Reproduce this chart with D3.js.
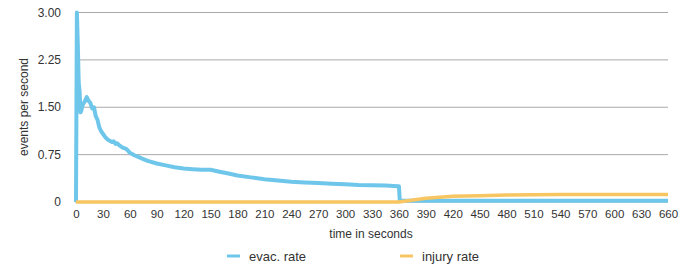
<!DOCTYPE html>
<html>
<head>
<meta charset="utf-8">
<script src="https://cdn.jsdelivr.net/npm/d3@7"></script>
<style>
  body { margin: 0; background: #fff; }
  text { font-family: "Liberation Sans", Arial, Helvetica, sans-serif; fill: #333; }
</style>
</head>
<body>
<div id="chart"></div>
<script>
// evac. rate series (time in s, events per second)
var evacTime = [0, 1, 2, 3, 4, 5, 6, 7, 8, 10, 12, 14, 16, 18, 20, 22, 24, 26, 28, 30,
  33, 36, 40, 42, 44, 46, 48, 52, 56, 60, 65, 70, 75, 80, 90, 100, 110, 120, 130, 140, 150,
  160, 170, 180, 195, 210, 225, 240, 255, 270, 285, 300, 315, 330, 345, 359, 360, 361,
  390, 420, 480, 540, 600, 660]
var evacRate = [0, 3.0, 2.5, 1.9, 1.75, 1.42, 1.45, 1.52, 1.55, 1.6, 1.66, 1.6, 1.57, 1.48, 1.5, 1.36, 1.3, 1.18, 1.12, 1.08,
  1.02, 0.98, 0.95, 0.96, 0.92, 0.93, 0.9, 0.86, 0.84, 0.78, 0.74, 0.71, 0.68, 0.65, 0.61, 0.58, 0.55, 0.53, 0.52, 0.51, 0.51,
  0.48, 0.45, 0.42, 0.39, 0.36, 0.34, 0.32, 0.31, 0.3, 0.29, 0.28, 0.27, 0.265, 0.26, 0.25, 0.25, 0.02,
  0.02, 0.02, 0.02, 0.02, 0.02, 0.02]

// injury rate series
var injuryTime = [0, 360, 390, 420, 450, 480, 510, 540, 600, 660]
var injuryRate = [0, 0, 0.06, 0.09, 0.1, 0.11, 0.115, 0.12, 0.12, 0.12]

var xTicks = d3.range(0, 661, 30)
var yTicks = [0, 0.75, 1.5, 2.25, 3]
var yTickLabels = ["0", "0.75", "1.50", "2.25", "3.00"]

var seriesNames = ["evac. rate", "injury rate"]
var colors = ["#6ec6ea", "#f7c662"]

const width = 700
const height = 269

const svg = d3.select("#chart").append("svg")
  .attr("width", width)
  .attr("height", height)

var x = d3.scaleLinear().domain([0, 660]).range([76, 668])
var y = d3.scaleLinear().domain([0, 3]).range([202, 12.5])

// grid lines
svg.append("g")
  .selectAll("line")
  .data(yTicks)
  .enter()
  .append("line")
  .attr("x1", 75)
  .attr("x2", 668)
  .attr("y1", function (d) { return y(d) })
  .attr("y2", function (d) { return y(d) })
  .attr("stroke", "#aaa")
  .attr("stroke-width", 1)

// y tick labels
svg.append("g")
  .selectAll("text")
  .data(yTicks)
  .enter()
  .append("text")
  .attr("x", 61)
  .attr("y", function (d) { return y(d) })
  .attr("dy", "0.35em")
  .attr("text-anchor", "end")
  .style("font-size", "12px")
  .text(function (d, i) { return yTickLabels[i] })

// x axis tick labels
var xAxis = d3.axisBottom(x).tickValues(xTicks).tickSize(0).tickPadding(0)
var gx = svg.append("g")
  .attr("transform", "translate(0,210)")
  .call(xAxis)
gx.select(".domain").remove()
gx.selectAll("text")
  .attr("dy", "0.71em")
  .style("font-size", "11.5px")
  .style("font-family", "\"Liberation Sans\", Arial, sans-serif")
  .attr("fill", "#333")

svg.append("text")
  .attr("x", 371)
  .attr("y", 238)
  .attr("text-anchor", "middle")
  .style("font-size", "12px")
  .text("time in seconds")

svg.append("text")
  .attr("transform", "translate(24,107) rotate(-90)")
  .attr("dy", "0.35em")
  .attr("text-anchor", "middle")
  .style("font-size", "12px")
  .text("events per second")

var line = d3.line()
  .x(function (d) { return x(d[0]) })
  .y(function (d) { return y(d[1]) })

svg.append("path")
  .datum(d3.zip(evacTime, evacRate))
  .attr("d", line)
  .attr("fill", "none")
  .attr("stroke", colors[0])
  .attr("stroke-width", 4)
  .attr("stroke-linejoin", "round")

svg.append("path")
  .datum(d3.zip(injuryTime, injuryRate))
  .attr("d", line)
  .attr("fill", "none")
  .attr("stroke", colors[1])
  .attr("stroke-width", 3.5)
  .attr("stroke-linejoin", "round")

// legend
var legendX = [227, 400]
var legend = svg.append("g")
  .selectAll("g")
  .data(seriesNames)
  .enter()
  .append("g")
  .attr("transform", function (d, i) { return "translate(" + legendX[i] + ",256)" })

legend.append("line")
  .attr("x1", 0)
  .attr("x2", 13)
  .attr("stroke", function (d, i) { return colors[i] })
  .attr("stroke-width", 3)

legend.append("text")
  .attr("x", 22)
  .attr("dy", "0.35em")
  .style("font-size", "13px")
  .text(function (d) { return d })
</script>
</body>
</html>
